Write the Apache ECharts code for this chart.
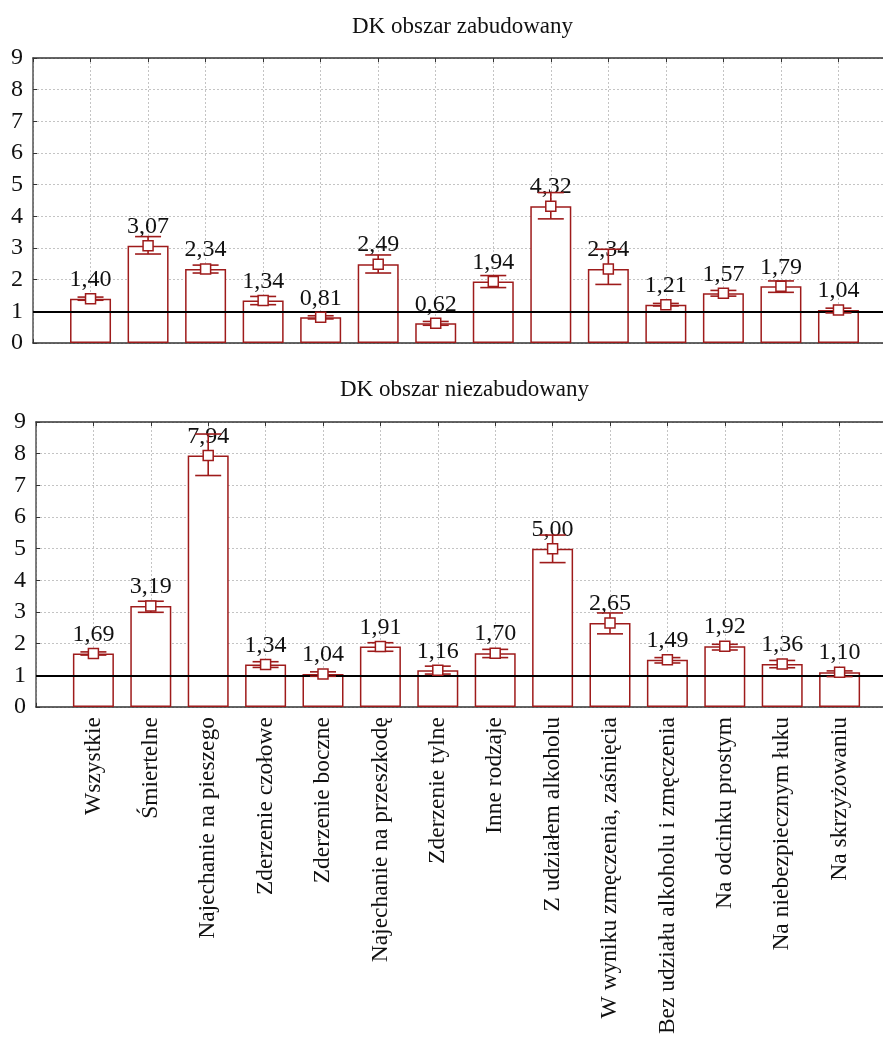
<!DOCTYPE html>
<html>
<head>
<meta charset="utf-8">
<script src="https://cdn.jsdelivr.net/npm/echarts@6/dist/echarts.min.js"></script>
<style>
  html, body { margin: 0; padding: 0; background: #fff; }
  #chart { width: 883px; height: 1039px; }
</style>
</head>
<body>
<div id="chart"></div>
<script>
// Accident categories (x axis)
const categories = [
  'Wszystkie', 'Śmiertelne', 'Najechanie na pieszego', 'Zderzenie czołowe',
  'Zderzenie boczne', 'Najechanie na przeszkodę', 'Zderzenie tylne', 'Inne rodzaje',
  'Z udziałem alkoholu', 'W wyniku zmęczenia, zaśnięcia', 'Bez udziału alkoholu i zmęczenia',
  'Na odcinku prostym', 'Na niebezpiecznym łuku', 'Na skrzyżowaniu'
];

// DK obszar zabudowany
const builtUp     = [1.40, 3.07, 2.34, 1.34, 0.81, 2.49, 0.62, 1.94, 4.32, 2.34, 1.21, 1.57, 1.79, 1.04];
const builtUpLow  = [1.35, 2.81, 2.21, 1.21, 0.76, 2.21, 0.56, 1.75, 3.92, 1.85, 1.17, 1.48, 1.60, 0.95];
const builtUpHigh = [1.45, 3.36, 2.46, 1.47, 0.86, 2.78, 0.68, 2.13, 4.75, 2.96, 1.25, 1.66, 1.96, 1.10];

// DK obszar niezabudowany
const rural     = [1.69, 3.19, 7.94, 1.34, 1.04, 1.91, 1.16, 1.70, 5.00, 2.65, 1.49, 1.92, 1.36, 1.10];
const ruralLow  = [1.64, 2.99, 7.31, 1.25, 0.97, 1.76, 1.04, 1.56, 4.56, 2.31, 1.39, 1.80, 1.24, 0.96];
const ruralHigh = [1.74, 3.34, 8.62, 1.43, 1.11, 2.03, 1.29, 1.82, 5.43, 2.97, 1.56, 1.98, 1.47, 1.14];

const yTicks = [0, 1, 2, 3, 4, 5, 6, 7, 8, 9];
const referenceLevel = 1;

const titles = ['DK obszar zabudowany', 'DK obszar niezabudowany'];

const RED = '#9e1b1b';
const FONT = '"Liberation Serif", "Times New Roman", serif';
const TEXT = '#111';

// empty slot before and after the categories
const axisCats = [''].concat(categories, ['']);

function fmt(v) { return v.toFixed(2).replace('.', ','); }

function renderErrorBar(params, api) {
  const idx = api.value(0);
  const x = api.coord([idx, 0])[0];
  const yLow = api.coord([idx, api.value(1)])[1];
  const yHigh = api.coord([idx, api.value(2)])[1];
  const yMid = api.coord([idx, api.value(3)])[1];
  const cap = 13, sq = 5;
  const st = { stroke: RED, lineWidth: 1.6, fill: null };
  return {
    type: 'group',
    children: [
      { type: 'line', shape: { x1: x, y1: yHigh, x2: x, y2: yLow }, style: st },
      { type: 'line', shape: { x1: x - cap, y1: yHigh, x2: x + cap, y2: yHigh }, style: st },
      { type: 'line', shape: { x1: x - cap, y1: yLow, x2: x + cap, y2: yLow }, style: st },
      { type: 'rect', shape: { x: x - sq, y: yMid - sq, width: 2 * sq, height: 2 * sq },
        style: { fill: '#fff', stroke: RED, lineWidth: 1.5 } }
    ]
  };
}

const grids = [
  { left: 33, top: 58, height: 285, right: -13, outerBoundsMode: 'none', containLabel: false },
  { left: 36, top: 422, height: 285, right: -14, outerBoundsMode: 'none', containLabel: false }
];

const gridLine = { show: true, interval: 0, lineStyle: { color: '#c4c4c4', type: [2, 2], width: 1 } };

const xAxes = [], yAxes = [], series = [];
const sets = [
  { vals: builtUp, low: builtUpLow, high: builtUpHigh },
  { vals: rural, low: ruralLow, high: ruralHigh }
];

sets.forEach((s, g) => {
  // bottom axis
  xAxes.push({
    type: 'category', gridIndex: g, data: axisCats, boundaryGap: false, position: 'bottom',
    axisLine: { lineStyle: { color: '#333', width: 1.5 } },
    axisTick: { inside: true, length: 4, interval: 0, lineStyle: { color: '#333' } },
    axisLabel: g === 1 ? {
      rotate: 90, margin: 10, fontFamily: FONT, fontSize: 23.5, color: TEXT, interval: 0
    } : { show: false },
    splitLine: gridLine
  });
  // top frame axis
  xAxes.push({
    type: 'category', gridIndex: g, data: axisCats, boundaryGap: false, position: 'top',
    axisLine: { lineStyle: { color: '#333', width: 1.5 } },
    axisTick: { inside: true, length: 4, interval: 0, lineStyle: { color: '#333' } },
    axisLabel: { show: false },
    splitLine: { show: false }
  });
  yAxes.push({
    type: 'value', gridIndex: g, min: yTicks[0], max: yTicks[yTicks.length - 1], interval: 1,
    axisLine: { show: true, lineStyle: { color: '#555', width: 1.5 } },
    axisTick: { show: true, inside: true, length: 4, lineStyle: { color: '#333' } },
    axisLabel: { margin: 10, fontFamily: FONT, fontSize: 24, color: TEXT },
    splitLine: { show: true, lineStyle: { color: '#c4c4c4', type: [2, 2], width: 1 } }
  });

  series.push({
    type: 'bar', xAxisIndex: g * 2, yAxisIndex: g, barWidth: 41, z: 2,
    data: ['-'].concat(s.vals, ['-']),
    itemStyle: { color: '#fff', borderColor: RED, borderWidth: 1.5 },
    label: {
      show: true, position: 'top', distance: 7,
      fontFamily: FONT, fontSize: 24, color: TEXT,
      formatter: p => fmt(p.value)
    },
    labelLayout: { hideOverlap: false },
    markLine: {
      silent: true, symbol: 'none', z: 3,
      label: { show: false },
      lineStyle: { color: '#000', width: 2, type: 'solid' },
      data: [{ yAxis: referenceLevel }]
    }
  });
  series.push({
    type: 'custom', xAxisIndex: g * 2, yAxisIndex: g, z: 4,
    renderItem: renderErrorBar,
    encode: { x: 0, y: [1, 2] },
    data: s.vals.map((v, i) => [i + 1, s.low[i], s.high[i], v])
  });
});

const chart = echarts.init(document.getElementById('chart'), null, { renderer: 'canvas' });
chart.setOption({
  animation: false,
  backgroundColor: '#fff',
  title: [
    { text: titles[0], left: 347, top: 10,
      textStyle: { fontFamily: FONT, fontSize: 23, fontWeight: 'normal', color: TEXT } },
    { text: titles[1], left: 335, top: 373,
      textStyle: { fontFamily: FONT, fontSize: 23, fontWeight: 'normal', color: TEXT } }
  ],
  grid: grids,
  xAxis: xAxes,
  yAxis: yAxes,
  series: series
});
</script>
</body>
</html>
